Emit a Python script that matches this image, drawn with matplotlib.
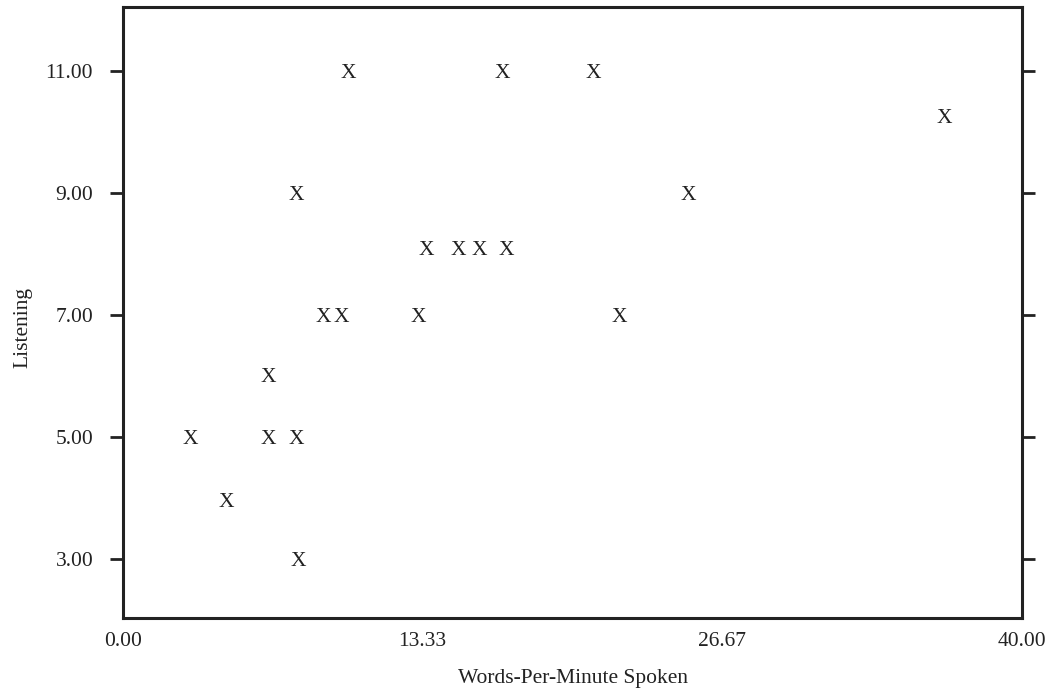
import matplotlib
matplotlib.use("Agg")
import matplotlib.pyplot as plt

# Data
words_per_minute = [2.98, 4.59, 6.46, 6.46, 7.71, 7.71, 7.80, 10.02, 8.90, 9.70,
                    13.14, 13.50, 14.92, 15.86, 17.06, 16.88, 20.94, 22.09, 25.17, 36.53]
listening = [5.0, 3.97, 6.02, 5.0, 9.0, 5.0, 3.0, 11.0, 7.0, 7.0,
             7.0, 8.1, 8.1, 8.1, 8.1, 11.0, 11.0, 7.0, 9.0, 10.26]
x_ticks = [0.0, 13.33, 26.67, 40.0]
x_tick_labels = ["0.00", "13.33", "26.67", "40.00"]
y_ticks = [3.0, 5.0, 7.0, 9.0, 11.0]
y_tick_labels = ["3.00", "5.00", "7.00", "9.00", "11.00"]

plt.rcParams['font.family'] = ['Liberation Serif', 'DejaVu Serif']
ink = "#222222"

fig = plt.figure(figsize=(10.58, 6.91), dpi=100)
ax = fig.add_axes([123/1058, 1 - 618/691, (1022 - 123)/1058, (618 - 7)/691])

for x, y in zip(words_per_minute, listening):
    ax.text(x, y, "X", ha="center", va="center_baseline", fontsize=15.5, color=ink)

ax.set_xlim(0, 40)
ax.set_ylim(2.03, 12.05)

ax.set_xticks(x_ticks)
ax.set_xticklabels(x_tick_labels)
ax.set_yticks(y_ticks)
ax.set_yticklabels(y_tick_labels)

ax.tick_params(axis="x", length=0, pad=10, labelsize=15.5, colors=ink)
ax.tick_params(axis="y", which="both", direction="out", length=9.5, width=2.0,
               pad=12, labelsize=15.5, colors=ink, left=True, right=True,
               labelleft=True, labelright=False)

for s in ax.spines.values():
    s.set_linewidth(2.2)
    s.set_color(ink)

ax.set_xlabel("Words-Per-Minute Spoken", fontsize=15.5, color=ink, labelpad=13)
ax.set_ylabel("Listening", fontsize=15.5, color=ink)
ax.yaxis.set_label_coords(-91/899, (618 - 328)/611)

fig.savefig("out.png", dpi=100)
